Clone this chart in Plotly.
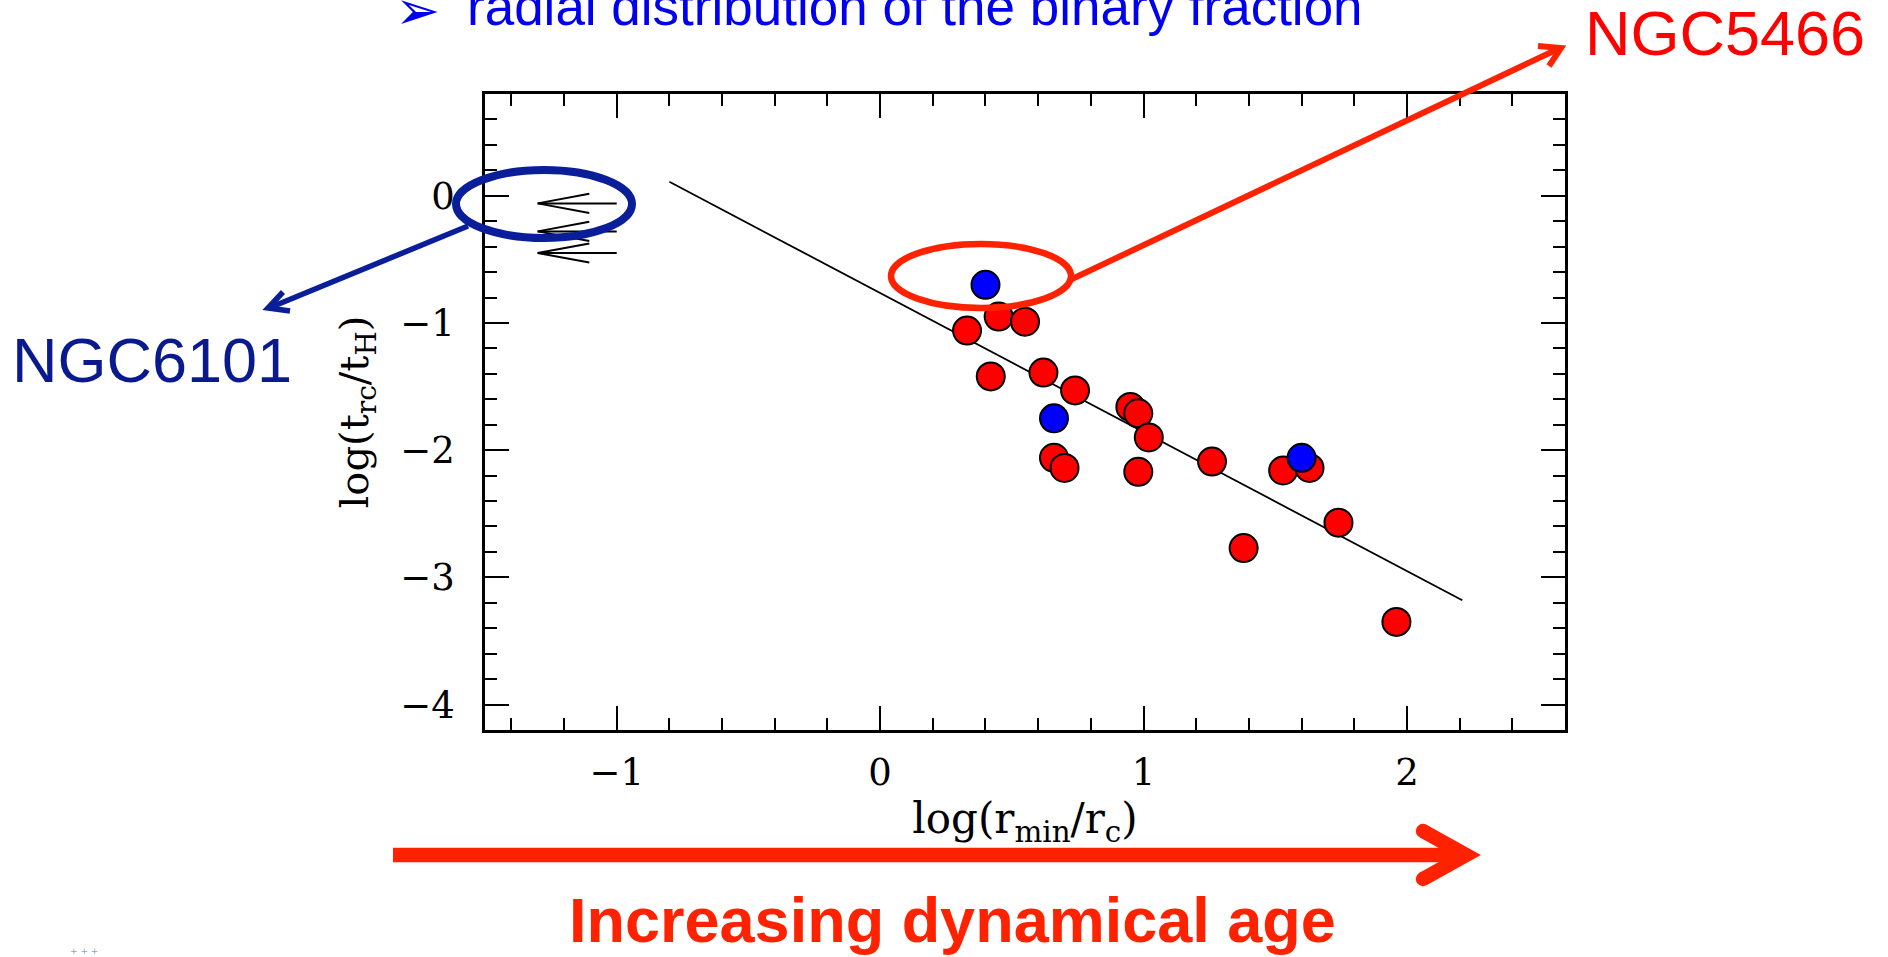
import plotly.graph_objects as go

# Clusters: log(r_min/r_c) vs log(t_rc/t_H)
red_x = [0.33, 0.45, 0.55, 0.42, 0.62, 0.74, 0.95, 0.98, 1.02, 0.66, 0.70,
         0.98, 1.26, 1.53, 1.63, 1.74, 1.38, 1.96]
red_y = [-1.06, -0.95, -0.99, -1.42, -1.39, -1.53, -1.66, -1.71, -1.90, -2.06,
         -2.14, -2.17, -2.09, -2.16, -2.14, -2.57, -2.77, -3.35]
blue_x = [0.40, 0.66, 1.60]
blue_y = [-0.70, -1.75, -2.06]

# Linear fit
fit_x = [-0.80, 2.21]
fit_y = [0.11, -3.18]

# Upper limits (arrows pointing to smaller r_min/r_c)
limit_x_start = -1.00
limit_x_end = -1.30
limit_y = [-0.06, -0.28, -0.45]

x_tickvals = [-1, 0, 1, 2]
y_tickvals = [-4, -3, -2, -1, 0]

W, H = 1888, 957
L, R, T, B = 485, 1565, 94, 730


def px(x):
    return (x - L) / (R - L)


def py(y):
    return (B - y) / (B - T)


fig = go.Figure()

fig.add_trace(go.Scatter(x=fit_x, y=fit_y, mode="lines",
                         line=dict(color="black", width=1.8),
                         hoverinfo="skip", showlegend=False))

# arrow glyphs for the limits
head_dx = 0.196
head_dy = 0.075
for yv in limit_y:
    fig.add_trace(go.Scatter(
        x=[limit_x_start, limit_x_end, None,
           limit_x_end + head_dx, limit_x_end, limit_x_end + head_dx],
        y=[yv, yv, None, yv + head_dy, yv, yv - head_dy],
        mode="lines", line=dict(color="black", width=2),
        hoverinfo="skip", showlegend=False))

fig.add_trace(go.Scatter(x=red_x, y=red_y, mode="markers",
                         marker=dict(size=28, color="#FF0000",
                                     line=dict(color="black", width=2)),
                         showlegend=False))
fig.add_trace(go.Scatter(x=blue_x, y=blue_y, mode="markers",
                         marker=dict(size=28, color="#0000FF",
                                     line=dict(color="black", width=2)),
                         showlegend=False))

axis_common = dict(
    showline=True, linecolor="black", linewidth=2.5, mirror="allticks",
    ticks="inside", ticklen=24, tickwidth=2, tickcolor="black",
    showgrid=False, zeroline=False,
    tickfont=dict(family="DejaVu Serif", size=37, color="black"),
)

fig.update_xaxes(
    range=[-1.5, 2.6], tickvals=x_tickvals, ticklabelstandoff=8,
    minor=dict(ticks="inside", ticklen=12, tickwidth=2, tickcolor="black",
               dtick=0.2, tick0=0, showgrid=False),
    title=dict(text="log(r<sub>min</sub>/r<sub>c</sub>)", standoff=8,
               font=dict(family="DejaVu Serif", size=42, color="black")),
    **axis_common)
fig.update_yaxes(
    range=[-4.2, 0.8], tickvals=y_tickvals, ticklabelstandoff=20,
    minor=dict(ticks="inside", ticklen=12, tickwidth=2, tickcolor="black",
               dtick=0.2, tick0=0, showgrid=False),
    title=dict(text="log(t<sub>rc</sub>/t<sub>H</sub>)", standoff=20,
               font=dict(family="DejaVu Serif", size=40, color="black")),
    **axis_common)

RED = "#FF2200"
NAVY = "#0B1E9A"

shapes = []
# red ellipse + pointer to the NGC5466 label
shapes.append(dict(type="circle", xref="paper", yref="paper",
                   x0=px(981 - 90), x1=px(981 + 90), y0=py(276 + 32), y1=py(276 - 32),
                   line=dict(color=RED, width=6.5)))
shapes.append(dict(type="line", xref="paper", yref="paper",
                   x0=px(1072), y0=py(279), x1=px(1560), y1=py(48),
                   line=dict(color=RED, width=6)))
shapes.append(dict(type="path", xref="paper", yref="paper",
                   path=f"M {px(1538)},{py(46)} L {px(1561)},{py(48)} L {px(1549)},{py(66)}",
                   line=dict(color=RED, width=6)))
# blue ellipse + pointer to the NGC6101 label
shapes.append(dict(type="circle", xref="paper", yref="paper",
                   x0=px(544 - 88), x1=px(544 + 88), y0=py(204 + 34), y1=py(204 - 34),
                   line=dict(color=NAVY, width=8)))
shapes.append(dict(type="line", xref="paper", yref="paper",
                   x0=px(468), y0=py(226), x1=px(269), y1=py(308),
                   line=dict(color=NAVY, width=5.5)))
shapes.append(dict(type="path", xref="paper", yref="paper",
                   path=f"M {px(283)},{py(292)} L {px(268)},{py(308)} L {px(290)},{py(311)}",
                   line=dict(color=NAVY, width=5.5)))
# big arrow along the bottom
shapes.append(dict(type="line", xref="paper", yref="paper",
                   x0=px(393), y0=py(855), x1=px(1462), y1=py(855),
                   line=dict(color=RED, width=14.5)))
shapes.append(dict(type="path", xref="paper", yref="paper",
                   path=f"M {px(1423)},{py(831)} L {px(1466)},{py(855)} L {px(1423)},{py(879)}",
                   line=dict(color=RED, width=14.5)))
for cy in (831, 879):
    shapes.append(dict(type="circle", xref="paper", yref="paper",
                       x0=px(1423 - 7.2), x1=px(1423 + 7.2),
                       y0=py(cy + 7.2), y1=py(cy - 7.2),
                       fillcolor=RED, line=dict(width=0)))

annotations = [
    dict(text="➢", x=px(393), y=py(10), xanchor="left", yanchor="middle",
         font=dict(family="DejaVu Sans", size=54, color="#0000EE")),
    dict(text="radial distribution of the binary fraction", x=px(465), y=py(6),
         xanchor="left", yanchor="middle",
         font=dict(family="Liberation Sans", size=53, color="#0000EE")),
    dict(text="NGC5466", x=px(1583), y=py(33), xanchor="left", yanchor="middle",
         font=dict(family="Liberation Sans", size=63, color="#FF0000")),
    dict(text="NGC6101", x=px(10), y=py(360), xanchor="left", yanchor="middle",
         font=dict(family="Liberation Sans", size=63, color="#0A1A8E")),
    dict(text="<b>Increasing dynamical age</b>", x=px(952), y=py(920),
         xanchor="center", yanchor="middle",
         font=dict(family="Liberation Sans", size=63, color=RED)),
    dict(text="+ + +", x=px(84), y=py(951), xanchor="center", yanchor="middle",
         font=dict(family="DejaVu Sans", size=9, color="#8AA4CC")),
]
for a in annotations:
    a.update(xref="paper", yref="paper", showarrow=False)

fig.update_layout(
    width=W, height=H, autosize=False,
    margin=dict(l=L, r=W - R, t=T, b=H - B, pad=0),
    paper_bgcolor="white", plot_bgcolor="white",
    shapes=shapes, annotations=annotations,
    showlegend=False,
)

fig.write_html("out.html")
